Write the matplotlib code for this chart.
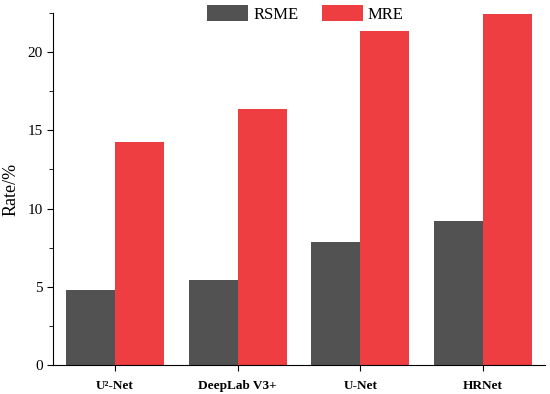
import numpy as np
import matplotlib.pyplot as plt
from matplotlib.ticker import MultipleLocator

# values
models = ['U\u00b2-Net', 'DeepLab V3+', 'U-Net', 'HRNet']
rsme = [4.79, 5.41, 7.84, 9.2]
mre = [14.25, 16.35, 21.35, 22.45]

plt.rcParams['font.family'] = ['Liberation Serif', 'DejaVu Serif']

fig = plt.figure(figsize=(5.5, 3.94), dpi=100)
ax = fig.add_axes([0.0964, 0.0736, 0.8946, 0.8934])

x = np.arange(len(models))
w = 0.4
ax.bar(x, rsme, width=-w, align='edge', color='#525252', label='RSME')
ax.bar(x, mre, width=w, align='edge', color='#ef3e42', label='MRE')

ax.set_xlim(-0.505, 3.505)
ax.set_ylim(0, 22.5)
ax.yaxis.set_major_locator(MultipleLocator(5))
ax.yaxis.set_minor_locator(MultipleLocator(2.5))
ax.set_xticks(x)
ax.set_xticklabels(models, fontsize=9.5, fontweight='bold')
ax.tick_params(axis='y', labelsize=11, direction='out', length=4)
ax.tick_params(axis='y', which='minor', length=3)
ax.tick_params(axis='x', direction='out', length=4, pad=7)
ax.set_ylabel('Rate/%', fontsize=13, labelpad=6)

for s in ['top', 'right']:
    ax.spines[s].set_visible(False)

ax.legend(loc='center', bbox_to_anchor=(0.513, 0.997), ncol=2, frameon=False,
          fontsize=12, handlelength=2.45, handleheight=1.1, columnspacing=1.4,
          handletextpad=0.3, borderpad=0)

fig.savefig('out.png', dpi=100)
